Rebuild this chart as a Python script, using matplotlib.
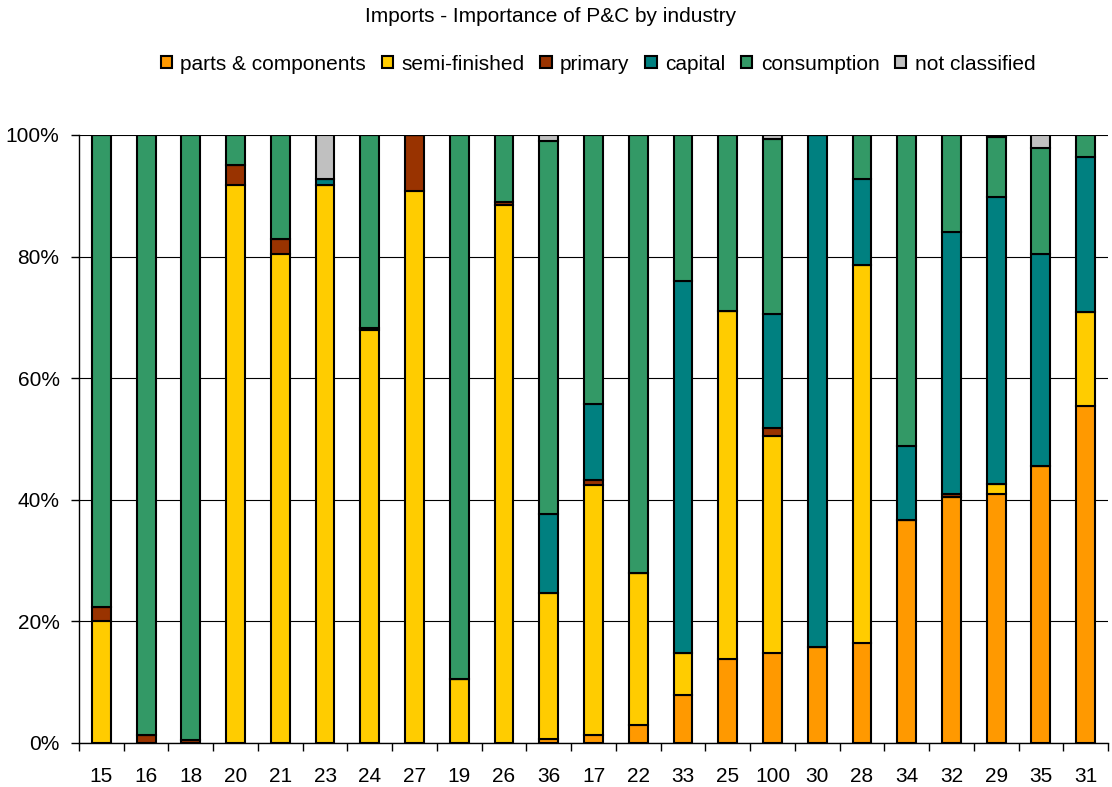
import numpy as np
import matplotlib.pyplot as plt
from matplotlib.ticker import FixedLocator, PercentFormatter

plt.rcParams['font.family'] = ['Liberation Sans', 'DejaVu Sans']

industries = ['15', '16', '18', '20', '21', '23', '24', '27', '19', '26', '36', '17',
              '22', '33', '25', '100', '30', '28', '34', '32', '29', '35', '31']

# shares in % of imports, per industry
parts = [0, 0, 0, 0, 0, 0, 0, 0, 0, 0, 0.6, 1.3,
         2.9, 7.9, 13.8, 14.8, 15.8, 16.5, 36.6, 40.5, 41.0, 45.5, 55.4]
semi = [20.0, 0, 0, 91.8, 80.5, 91.8, 68.0, 90.8, 10.5, 88.5, 24.1, 41.2,
        25.1, 6.9, 57.2, 35.7, 0, 62.1, 0, 0, 1.6, 0, 15.5]
primary = [2.3, 1.3, 0.5, 3.2, 2.4, 0, 0.3, 9.2, 0, 0.5, 0, 0.8,
           0, 0, 0, 1.3, 0, 0, 0, 0.4, 0, 0, 0]
capital = [0, 0, 0, 0, 0, 1.0, 0, 0, 0, 0, 12.9, 12.5,
           0, 61.2, 0, 18.8, 84.2, 14.2, 12.2, 43.2, 47.2, 35.0, 25.5]
consumption = [77.7, 98.7, 99.5, 5.0, 17.1, 0, 31.7, 0, 89.5, 11.0, 61.4, 44.2,
               72.0, 24.0, 29.0, 28.8, 0, 7.2, 51.2, 15.9, 9.8, 17.4, 3.6]
not_classified = [0, 0, 0, 0, 0, 7.2, 0, 0, 0, 0, 1.0, 0,
                  0, 0, 0, 0.6, 0, 0, 0, 0, 0.4, 2.1, 0]

series = [parts, semi, primary, capital, consumption, not_classified]
labels = ['parts & components', 'semi-finished', 'primary', 'capital',
          'consumption', 'not classified']
colors = ['#FF9900', '#FFCC00', '#993300', '#008080', '#339966', '#C0C0C0']

fig = plt.figure(figsize=(11.12, 7.87), dpi=100)
ax = fig.add_axes([79 / 1112, 44 / 787, 1029 / 1112, 608 / 787])

x = np.arange(len(industries))
bottom = np.zeros(len(industries))
handles = []
for vals, lab, col in zip(series, labels, colors):
    v = np.array(vals, dtype=float)
    b = ax.bar(x, v, width=0.42, bottom=bottom, color=col, edgecolor='black',
               linewidth=1.5, label=lab, zorder=3)
    handles.append(b)
    bottom += v

ax.set_xlim(-0.5, len(industries) - 0.5)
ax.set_ylim(0, 100)
ax.set_yticks(np.arange(0, 101, 20))
ax.yaxis.set_major_formatter(PercentFormatter(decimals=0))
ax.yaxis.grid(True, color='black', linewidth=0.8, zorder=0)
ax.set_xticks(x)
ax.set_xticklabels(industries)
ax.xaxis.set_minor_locator(FixedLocator(np.arange(-0.5, len(industries), 1)))
ax.tick_params(axis='x', which='major', length=0, pad=17, labelsize=15)
ax.tick_params(axis='x', which='minor', length=6, width=1, direction='out')
ax.tick_params(axis='y', length=6, width=1, direction='out', labelsize=15, pad=8)
for s in ['top', 'right']:
    ax.spines[s].set_visible(False)
ax.spines['left'].set_linewidth(1)
ax.spines['bottom'].set_linewidth(1)

fig.text(551 / 1112, 1 - 17 / 787, 'Imports - Importance of P&C by industry',
         ha='center', va='center', fontsize=15)
fig.legend(handles=handles, labels=labels, loc='center',
           bbox_to_anchor=(598 / 1112, 1 - 64 / 787), ncol=6, frameon=False,
           fontsize=15, handlelength=0.55, handleheight=0.55, handletextpad=0.4,
           columnspacing=0.75)

fig.savefig('out.png', dpi=100)
